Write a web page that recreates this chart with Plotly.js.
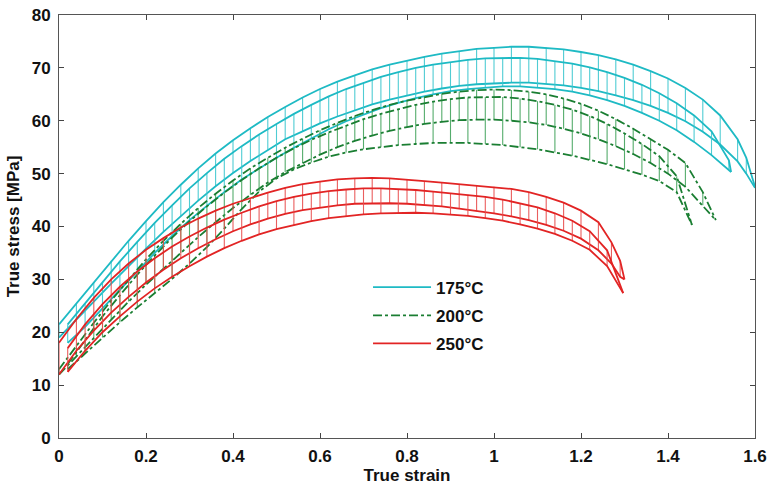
<!DOCTYPE html>
<html>
<head>
<meta charset="utf-8">
<script src="https://cdn.plot.ly/plotly-3.0.1.min.js"></script>
<style>html,body{margin:0;padding:0;background:#fff;}#chart{width:769px;height:488px;}</style>
</head>
<body>
<div id="chart"></div>
<script>
// ---- 175°C : two specimens (A ends at 1.60, B ends at 1.545) ----
const cyanA_strain = [0,0.04,0.08,0.12,0.16,0.20,0.24,0.28,0.32,0.36,0.40,0.44,0.48,0.52,0.56,0.60,0.64,0.68,0.72,0.76,0.80,0.84,0.88,0.92,0.96,1.00,1.04,1.08,1.12,1.16,1.20,1.24,1.28,1.32,1.36,1.40,1.44,1.48,1.52,1.56,1.58,1.60];
const cyanA_upper  = [21.5,25.5,29.5,33.5,37.3,41.0,44.6,47.9,51.0,53.8,56.3,58.6,60.7,62.6,64.4,66.0,67.4,68.6,69.7,70.6,71.4,72.1,72.7,73.2,73.6,73.8,74.0,74.0,73.8,73.5,73.0,72.4,71.6,70.6,69.4,68.0,66.2,64.0,61.0,56.5,53.0,47.5];
const cyanA_lower  = [19.0,22.3,25.8,29.2,32.6,35.8,39.0,42.0,44.9,47.6,50.1,52.4,54.5,56.5,58.0,59.5,60.8,62.0,63.1,64.0,64.8,65.5,66.1,66.6,66.9,67.1,67.2,67.2,67.0,66.7,66.2,65.6,64.8,63.9,62.8,61.5,59.9,57.9,55.5,52.3,50.0,47.3];
const cyanB_strain = [0.02,0.06,0.10,0.14,0.18,0.22,0.26,0.30,0.34,0.38,0.42,0.46,0.50,0.54,0.58,0.62,0.66,0.70,0.74,0.78,0.82,0.86,0.90,0.94,0.98,1.02,1.06,1.10,1.14,1.18,1.22,1.26,1.30,1.34,1.38,1.42,1.46,1.50,1.54,1.545];
const cyanB_upper  = [21.5,25.5,29.5,33.4,37.1,40.7,44.0,47.2,50.1,52.8,55.2,57.4,59.4,61.3,63.0,64.6,66.0,67.2,68.3,69.2,70.0,70.6,71.1,71.5,71.8,71.9,71.9,71.7,71.3,70.8,70.1,69.2,68.1,66.8,65.2,63.3,61.0,58.0,52.5,50.3];
const cyanB_lower  = [18.0,21.0,24.5,28.0,31.5,35.0,38.2,41.2,43.9,46.5,48.9,51.0,53.0,54.9,56.7,58.4,59.9,61.2,62.4,63.4,64.3,65.0,65.6,66.0,66.3,66.5,66.5,66.3,66.0,65.5,64.8,63.9,62.8,61.5,60.0,58.2,56.0,53.5,50.8,50.3];

// ---- 200°C : two specimens (A ends at 1.51, B ends at 1.455) ----
const greenA_strain = [0,0.04,0.08,0.12,0.16,0.20,0.24,0.28,0.32,0.36,0.40,0.44,0.48,0.52,0.56,0.60,0.64,0.68,0.72,0.76,0.80,0.84,0.88,0.92,0.96,1.00,1.04,1.08,1.12,1.16,1.20,1.24,1.28,1.32,1.36,1.40,1.44,1.48,1.51];
const greenA_upper  = [13.0,17.5,21.8,26.0,30.0,33.8,37.3,40.5,43.5,46.2,48.7,51.0,53.0,54.9,56.6,58.2,59.6,60.9,62.0,63.0,63.8,64.5,65.1,65.5,65.8,65.9,65.8,65.5,65.0,64.2,63.2,61.9,60.3,58.5,56.5,54.5,52.0,46.5,41.2];
const greenA_lower  = [12.0,15.5,19.0,22.5,25.8,29.0,32.0,35.0,38.0,40.8,43.5,46.0,48.3,50.3,52.0,53.6,55.0,56.2,57.2,58.1,58.8,59.4,59.8,60.1,60.2,60.2,60.0,59.7,59.2,58.5,57.6,56.5,55.2,53.7,52.0,50.0,47.5,44.0,41.2];
const greenB_strain = [0.02,0.06,0.10,0.14,0.18,0.22,0.26,0.30,0.34,0.38,0.42,0.46,0.50,0.54,0.58,0.62,0.66,0.70,0.74,0.78,0.82,0.86,0.90,0.94,0.98,1.02,1.06,1.10,1.14,1.18,1.22,1.26,1.30,1.34,1.38,1.42,1.455];
const greenB_upper  = [14.0,18.6,23.0,27.0,30.9,34.5,37.9,41.0,43.8,46.4,48.8,51.0,53.0,54.8,56.4,57.8,59.1,60.3,61.3,62.2,63.0,63.6,64.1,64.4,64.5,64.5,64.2,63.7,63.0,62.1,60.9,59.4,57.6,55.6,53.3,49.5,40.3];
const greenB_lower  = [13.0,16.0,19.0,21.9,24.7,27.4,30.1,33.0,36.1,39.6,43.3,46.6,49.1,50.8,52.1,53.2,54.0,54.6,55.0,55.4,55.6,55.8,55.8,55.8,55.6,55.4,55.0,54.6,54.0,53.4,52.6,51.8,50.8,49.8,48.6,46.5,40.3];

// ---- 250°C : two specimens (both end near 1.30) ----
const redA_strain = [0,0.04,0.08,0.12,0.16,0.20,0.24,0.28,0.32,0.36,0.40,0.44,0.48,0.52,0.56,0.60,0.64,0.68,0.72,0.76,0.80,0.84,0.88,0.92,0.96,1.00,1.04,1.08,1.12,1.16,1.20,1.24,1.27,1.29,1.30];
const redA_upper  = [18.0,22.5,26.5,30.0,33.0,35.6,37.8,39.8,41.5,43.0,44.3,45.4,46.4,47.3,48.0,48.5,48.9,49.1,49.2,49.1,48.9,48.6,48.3,48.0,47.8,47.5,47.1,46.5,45.6,44.5,43.0,40.8,37.0,33.5,30.0];
const redA_lower  = [12.0,16.5,20.3,23.7,26.7,29.4,31.8,34.0,35.9,37.6,39.1,40.4,41.5,42.4,43.1,43.6,44.0,44.3,44.4,44.4,44.3,44.1,43.8,43.4,43.0,42.5,41.9,41.2,40.3,39.2,37.7,35.5,33.0,30.5,30.0];
const redB_strain = [0.02,0.06,0.10,0.14,0.18,0.22,0.26,0.30,0.34,0.38,0.42,0.46,0.50,0.54,0.58,0.62,0.66,0.70,0.74,0.78,0.82,0.86,0.90,0.94,0.98,1.02,1.06,1.10,1.14,1.18,1.22,1.26,1.297];
const redB_upper  = [17.0,21.5,25.3,28.6,31.5,34.0,36.2,38.1,39.8,41.3,42.6,43.8,44.8,45.6,46.2,46.7,47.0,47.2,47.2,47.1,46.9,46.6,46.3,46.0,45.6,45.1,44.4,43.6,42.5,41.1,39.1,35.5,27.4];
const redB_lower  = [12.5,16.5,20.0,23.0,25.8,28.3,30.5,32.5,34.3,35.9,37.3,38.5,39.5,40.3,41.0,41.6,42.0,42.3,42.5,42.6,42.6,42.5,42.3,42.0,41.6,41.1,40.4,39.6,38.6,37.3,35.6,32.5,27.4];

const seriesNames = ['175°C','200°C','250°C'];

const styles = {
  '175°C': {line:'rgb(30,186,196)', cyc:'rgba(60,198,206,0.9)', dash:'solid'},
  '200°C': {line:'rgb(26,126,50)',  cyc:'rgba(55,158,82,0.85)', dash:'dashdot'},
  '250°C': {line:'rgb(226,36,36)',  cyc:'rgba(232,76,76,0.9)',  dash:'solid'}
};

function specimen(name, strain, upper, lower, showLegend) {
  const st = styles[name];
  const vx = [], vy = [];
  for (let i = 0; i < strain.length; i++) {
    vx.push(strain[i], strain[i], null);
    vy.push(lower[i], upper[i], null);
  }
  return [
    {x: vx, y: vy, mode:'lines', type:'scatter', line:{color:st.cyc, width:1.1}, legendgroup:name, showlegend:false, hoverinfo:'skip'},
    {x: strain, y: lower, mode:'lines', type:'scatter', line:{color:st.line, width:1.8, dash:st.dash}, legendgroup:name, showlegend:false},
    {x: strain, y: upper, mode:'lines', type:'scatter', name:name, line:{color:st.line, width:1.8, dash:st.dash}, legendgroup:name, showlegend:showLegend}
  ];
}

const data = [].concat(
  specimen(seriesNames[0], cyanA_strain, cyanA_upper, cyanA_lower, true),
  specimen(seriesNames[0], cyanB_strain, cyanB_upper, cyanB_lower, false),
  specimen(seriesNames[1], greenA_strain, greenA_upper, greenA_lower, true),
  specimen(seriesNames[1], greenB_strain, greenB_upper, greenB_lower, false),
  specimen(seriesNames[2], redA_strain, redA_upper, redA_lower, true),
  specimen(seriesNames[2], redB_strain, redB_upper, redB_lower, false)
);

const fontFam = 'Liberation Sans, Arial, Helvetica, sans-serif';
const txt = {family: fontFam, size:17, color:'#111', weight:'bold'};
const layout = {
  width: 769, height: 488,
  margin: {l:59, r:14, t:15, b:50},
  paper_bgcolor:'#ffffff', plot_bgcolor:'#ffffff',
  font: txt,
  showlegend: true,
  legend: {x:0.444, y:0.398, xanchor:'left', yanchor:'top', bgcolor:'rgba(0,0,0,0)', borderwidth:0,
           font:txt, tracegroupgap:3, itemwidth:58},
  xaxis: {range:[0,1.6], dtick:0.2, tick0:0, ticks:'inside', ticklen:5, tickcolor:'#444', mirror:'ticks',
          showline:true, linecolor:'#555', linewidth:1, showgrid:false, zeroline:false,
          tickfont:txt, ticklabelstandoff:3,
          title:{text:'True strain', font:txt, standoff:1}},
  yaxis: {range:[0,80], dtick:10, tick0:0, ticks:'inside', ticklen:5, tickcolor:'#444', mirror:'ticks',
          showline:true, linecolor:'#555', linewidth:1, showgrid:false, zeroline:false,
          tickfont:txt, ticklabelstandoff:4,
          title:{text:'True stress [MPa]', font:txt, standoff:7}}
};

Plotly.newPlot('chart', data, layout, {displayModeBar:false, staticPlot:true});
</script>
</body>
</html>
